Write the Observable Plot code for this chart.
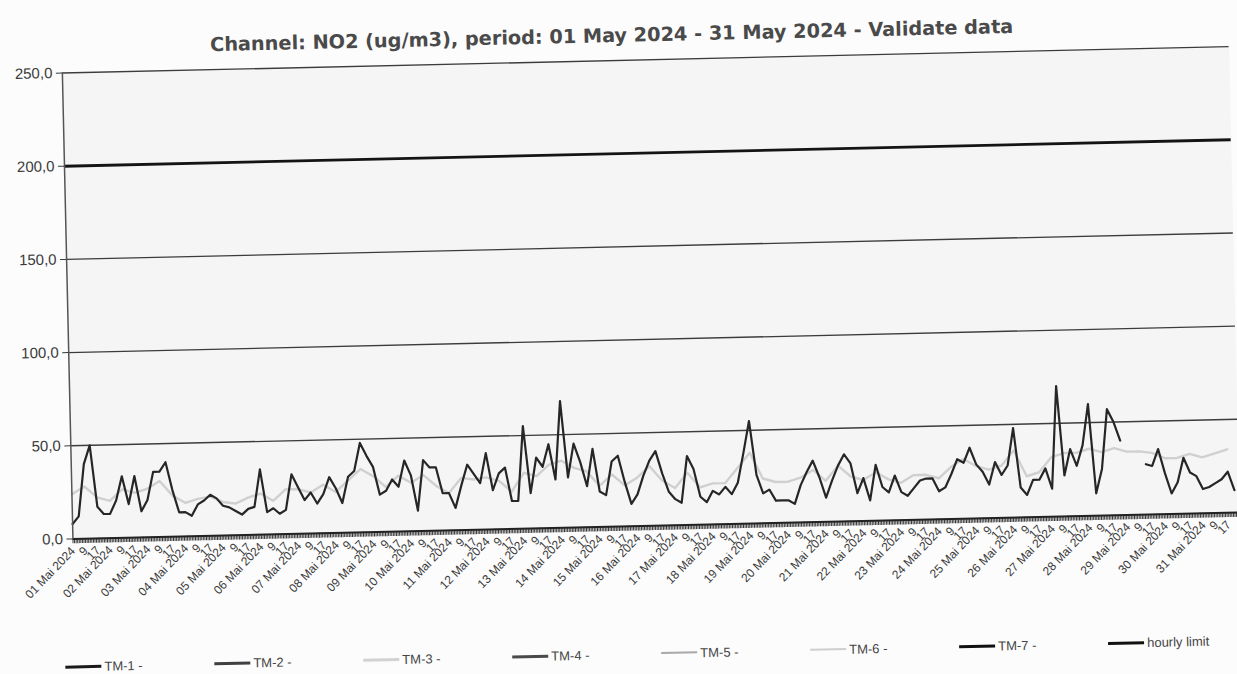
<!DOCTYPE html>
<html>
<head>
<meta charset="utf-8">
<script src="https://cdn.jsdelivr.net/npm/d3@7"></script>
<script src="https://cdn.jsdelivr.net/npm/@observablehq/plot@0.6"></script>
<style>
  html, body { margin: 0; padding: 0; background: #fcfcfc; }
  #page { position: relative; width: 1237px; height: 674px; overflow: hidden; background: #fcfcfc; }
  #rot { position: absolute; left: 0; top: 0; width: 1237px; height: 674px;
         transform-origin: 618.5px 337px; transform: rotate(-1.3deg); }
  #title { height: 48px; box-sizing: border-box; padding-top: 25px; text-align: center;
           font: bold 19.3px "DejaVu Sans", Verdana, sans-serif; line-height: 22px; color: #4a4a4a; }
  #chart svg { display: block; }
  #legend { position: relative; height: 50px; font: 13px "Liberation Sans", Arial, sans-serif; color: #444; }
  .item { position: absolute; top: 21px; height: 18px; display: flex; align-items: center; white-space: nowrap; }
  .swatch { width: 36px; height: 3px; margin-right: 3px; }
</style>
</head>
<body>
<div id="page"><div id="rot">
  <div id="title"></div>
  <div id="chart"></div>
  <div id="legend"></div>
</div></div>
<script>
// ---------------- data ----------------
const titleText = "Channel: NO2 (ug/m3), period: 01 May 2024 - 31 May 2024 - Validate data";
const monthLabel = "Mai 2024";
const dayNumbers = d3.range(1, 32);
const yTicks = [0, 50, 100, 150, 200, 250];
const hourlyLimit = [200];
const seriesNames = ["TM-1 -", "TM-2 -", "TM-3 -", "TM-4 -", "TM-5 -", "TM-6 -", "TM-7 -", "hourly limit"];

// dark series: one value every 4 hours (01,05,09,13,17,21 h), per day
const darkValues = [
  8, 12, 40, 50, 17, 13,
  13, 20, 33, 18, 33, 14,
  20, 35, 35, 40, 25, 13,
  13, 11, 17, 19, 22, 20,
  16, 15, 13, 11, 14, 15,
  35, 12, 14, 11, 13, 32,
  25, 18, 22, 16, 21, 30,
  24, 16, 30, 33, 48, 41,
  35, 20, 22, 28, 24, 38,
  30, 11, 38, 34, 34, 20,
  20, 12, 24, 35, 30, 25,
  41, 21, 30, 33, 15, 15,
  55, 19, 38, 33, 45, 26,
  68, 27, 45, 35, 22, 42,
  19, 17, 35, 38, 24, 12,
  17, 27, 35, 40, 28, 18,
  14, 12, 37, 30, 15, 12,
  18, 16, 20, 16, 22, 38,
  55, 26, 16, 18, 12, 12,
  12, 10, 20, 27, 33, 24,
  13, 22, 30, 36, 31, 15,
  23, 11, 30, 18, 15, 24,
  15, 13, 17, 21, 22, 22,
  15, 17, 24, 32, 30, 38,
  29, 25, 18, 30, 23, 28,
  48, 16, 12, 20, 20, 26,
  15, 70, 22, 36, 27, 38,
  60, 12, 25, 57, 50, 40,
  null, null, null, 27, 26, 35,
  22, 11, 17, 30, 22, 20,
  13, 14, 16, 18, 22, 12
];

// light grey series: one value every 8 hours (01,09,17 h), per day
const lightValues = [
  24, 28, 22,  20, 26, 24,  26, 30, 22,  18, 20, 21,  18, 17, 20,
  22, 18, 24,  24, 22, 26,  22, 28, 34,  30, 24, 30,  26, 30, 24,
  20, 28, 27,  28, 26, 20,  30, 28, 34,  36, 32, 30,  22, 28, 22,
  26, 32, 24,  20, 28, 20,  22, 22, 30,  38, 24, 22,  22, 24, 28,
  22, 30, 24,  22, 26, 22,  20, 24, 24,  22, 28, 32,  28, 26, 28,
  36, 22, 24,  32, 34, 34,  36, 34, 36,  34, 34, 33,  30, 30, 32,
  30, 32, 34
];

// ---------------- build ----------------
const darkData = darkValues.map((v, i) => ({h: 1 + 4 * i, v}));
const lightData = lightValues.map((v, i) => ({h: 1 + 8 * i, v}));
const hourTicks = d3.range(1, 745);
const labelTicks = dayNumbers.flatMap(d => [(d - 1) * 24 + 1, (d - 1) * 24 + 9, (d - 1) * 24 + 17]);
const tickLabel = h => {
  const r = (h - 1) % 24;
  const d = Math.floor((h - 1) / 24) + 1;
  return r === 0 ? `${String(d).padStart(2, "0")} ${monthLabel}` : String(r + 1);
};
const yFmt = v => v.toFixed(1).replace(".", ",");

document.getElementById("title").textContent = titleText;

const chart = Plot.plot({
  width: 1237,
  height: 576,
  marginTop: 12,
  marginBottom: 98,
  marginLeft: 68,
  marginRight: 2,
  style: {background: "transparent", fontFamily: "'Liberation Sans', Arial, sans-serif", fontSize: "12px", color: "#3a3a3a"},
  x: {domain: [1, 744], label: null},
  y: {domain: [0, 250], label: null},
  marks: [
    Plot.frame({fill: "#f5f5f5", stroke: null}),
    Plot.gridY(yTicks.filter(v => v !== 0 && v !== 200), {stroke: "#3c3c3c", strokeOpacity: 1, strokeWidth: 1.4}),
    Plot.ruleY(hourlyLimit, {stroke: "#141414", strokeWidth: 2.8}),
    Plot.line(lightData, {x: "h", y: "v", stroke: "#d0d0d0", strokeWidth: 2.4}),
    Plot.line(darkData, {x: "h", y: "v", stroke: "#262626", strokeWidth: 2.2}),
    Plot.ruleX(hourTicks, {x: d => d, y1: 0, y2: -2.6, stroke: "#3a3a3a", strokeWidth: 1}),
    Plot.ruleY([0], {stroke: "#222", strokeWidth: 2}),
    Plot.ruleX([1], {stroke: "#555", strokeWidth: 1.5}),
    Plot.axisY({ticks: yTicks, tickFormat: yFmt, tickSize: 6, tickPadding: 4, fontSize: 15, label: null}),
    Plot.axisX({ticks: labelTicks, tickFormat: tickLabel, tickRotate: -45, tickSize: 0, tickPadding: 10, fontSize: 12, label: null})
  ]
});
document.getElementById("chart").append(chart);

// legend
const legendStyles = [
  {color: "#1a1a1a", h: 3}, {color: "#404040", h: 3}, {color: "#d2d2d2", h: 3}, {color: "#4a4a4a", h: 3},
  {color: "#a8a8a8", h: 2}, {color: "#cfcfcf", h: 2}, {color: "#111", h: 3}, {color: "#111", h: 3}
];
const legend = document.getElementById("legend");
seriesNames.forEach((name, i) => {
  const item = document.createElement("div");
  item.className = "item";
  item.style.left = (58 + i * 149) + "px";
  const sw = document.createElement("span");
  sw.className = "swatch";
  sw.style.background = legendStyles[i].color;
  sw.style.height = legendStyles[i].h + "px";
  const tx = document.createElement("span");
  tx.textContent = name;
  item.append(sw, tx);
  legend.append(item);
});
</script>
</body>
</html>
